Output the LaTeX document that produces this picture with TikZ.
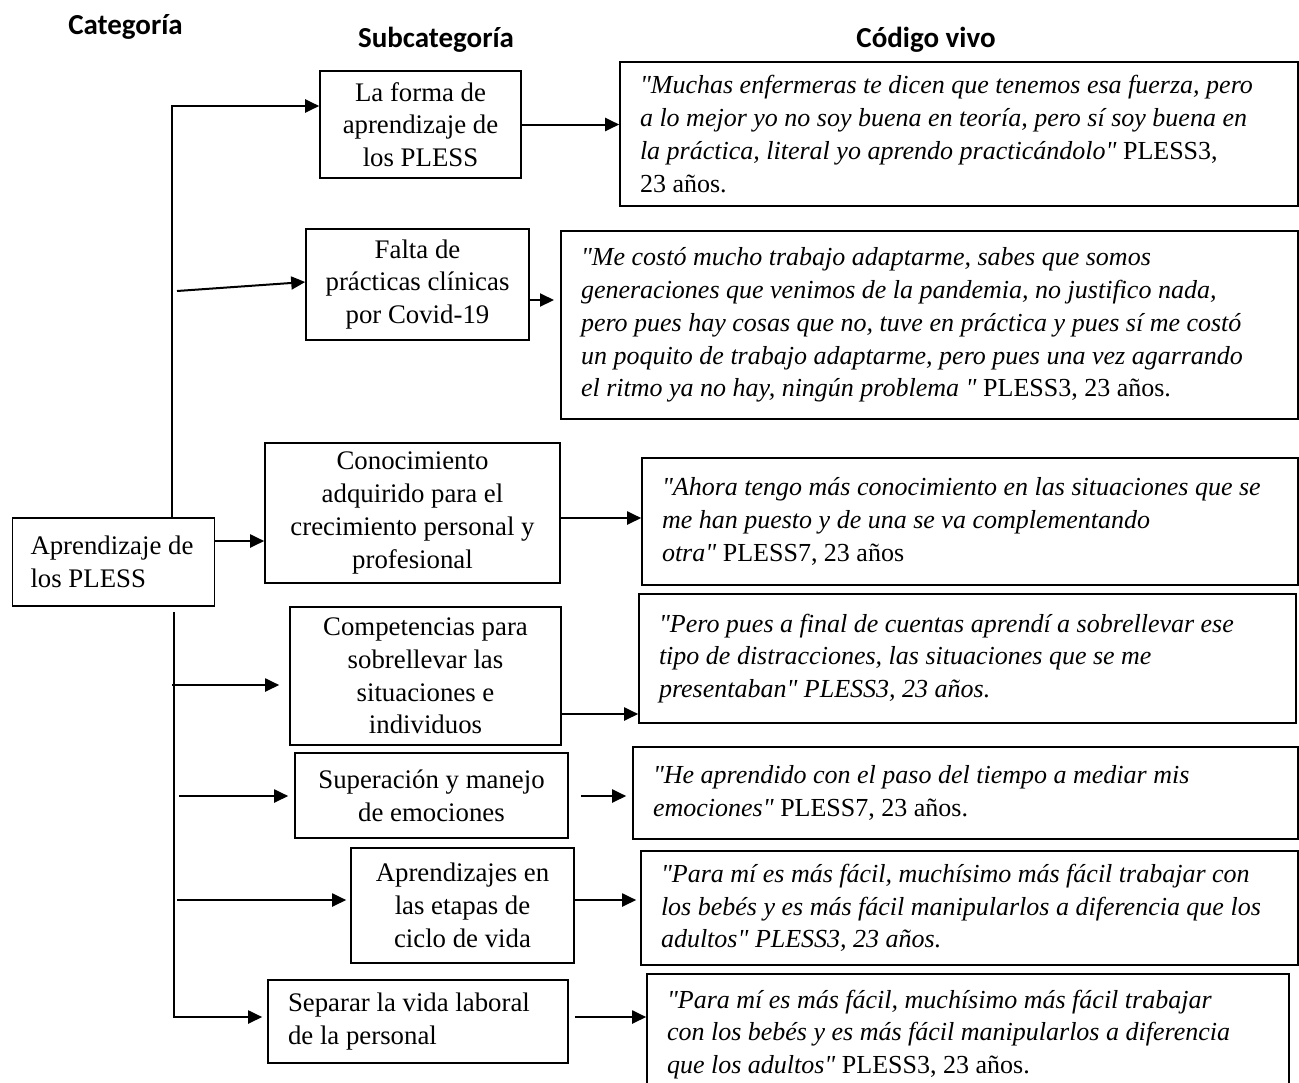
\documentclass[tikz,border=0pt]{standalone}
\usepackage{fontspec}
\newfontfamily\bodyfont{Liberation Serif}
\newfontfamily\hdrfont{Carlito}
\usetikzlibrary{arrows.meta}
\begin{document}
\begin{tikzpicture}[x=0.5pt,y=-0.5pt,
  box/.style={draw=black, line width=0.8pt, inner ysep=0pt},
  subbox/.style={box, align=center, inner xsep=2pt, font=\bodyfont\fontsize{13.4}{16.4}\selectfont},
  lbox/.style={box, align=flush left, inner xsep=10pt, font=\bodyfont\fontsize{13}{16.4}\selectfont},
  hdr/.style={font=\hdrfont\bfseries\fontsize{14.5}{16}\selectfont, inner sep=0pt},
  arr/.style={line width=1pt, -{Triangle[length=7pt,width=6.5pt]}}]
\useasboundingbox (0,0) rectangle (1299,1082);
\clip (0,0) rectangle (1299,1082);

% headers
\node[hdr] (hc) at (125.5,27) {Categoría};
\node[hdr] (hs) at (436,40) {Subcategoría};
\node[hdr] (hv) at (926,40) {Código vivo};

% category
\node[lbox, font=\bodyfont\fontsize{13.4}{16.4}\selectfont, inner xsep=9pt, minimum width=101pt, minimum height=44pt, text width=83pt] (A) at (113.5,562) {Aprendizaje de\\los PLESS};

% subcategories
\node[subbox, minimum width=100.5pt, minimum height=53.5pt] (s1) at (420.5,124.5) {La forma de\\aprendizaje de\\los PLESS};
\node[subbox, minimum width=111.5pt, minimum height=55.5pt] (s2) at (417.5,284.5) {Falta de\\prácticas clínicas\\por Covid-19};
\node[subbox, minimum width=147.5pt, minimum height=70pt] (s3) at (412.5,513) {Conocimiento\\adquirido para el\\crecimiento personal y\\profesional};
\node[subbox, minimum width=135.5pt, minimum height=69pt] (s4) at (425.5,676) {Competencias para\\sobrellevar las\\situaciones e\\individuos};
\node[subbox, minimum width=136.5pt, minimum height=42.5pt] (s5) at (431.5,795.5) {Superación y manejo\\de emociones};
\node[subbox, minimum width=111.5pt, minimum height=57.5pt] (s6) at (462.5,905.5) {Aprendizajes en\\las etapas de\\ciclo de vida};
\node[lbox, font=\bodyfont\fontsize{13.4}{16.4}\selectfont, minimum width=150pt, minimum height=41.5pt, text width=130pt] (s7) at (418,1021.5) {Separar la vida laboral\\de la personal};

% quotes
\node[lbox, minimum width=339pt, minimum height=72pt, text width=319pt] (q1) at (959,134) {\textit{"Muchas enfermeras te dicen que tenemos esa fuerza, pero}\\\textit{a lo mejor yo no soy buena en teoría, pero sí soy buena en}\\\textit{la práctica, literal yo aprendo practicándolo"} PLESS3,\\23 años.};
\node[lbox, minimum width=368.5pt, minimum height=94pt, text width=348.5pt] (q2) at (929.5,325) {\textit{"Me costó mucho trabajo adaptarme, sabes que somos}\\\textit{generaciones que venimos de la pandemia, no justifico nada,}\\\textit{pero pues hay cosas que no, tuve en práctica y pues sí me costó}\\\textit{un poquito de trabajo adaptarme, pero pues una vez agarrando}\\\textit{el ritmo ya no hay, ningún problema "} PLESS3, 23 años.};
\node[lbox, minimum width=328pt, minimum height=63.5pt, text width=308pt] (q3) at (970,521.5) {\textit{"Ahora tengo más conocimiento en las situaciones que se}\\\textit{me han puesto y de una se va complementando}\\\textit{otra"} PLESS7, 23 años};
\node[lbox, minimum width=328.5pt, minimum height=64.5pt, text width=308.5pt] (q4) at (967.5,658.5) {\textit{"Pero pues a final de cuentas aprendí a sobrellevar ese}\\\textit{tipo de distracciones, las situaciones que se me}\\\textit{presentaban" PLESS3, 23 años.}};
\node[lbox, minimum width=332.5pt, minimum height=46pt, text width=312.5pt] (q5) at (965.5,793) {\textit{"He aprendido con el paso del tiempo a mediar mis}\\\textit{emociones"} PLESS7, 23 años.};
\node[lbox, minimum width=328.5pt, minimum height=57pt, text width=308.5pt] (q6) at (969.5,908) {\textit{"Para mí es más fácil, muchísimo más fácil trabajar con}\\\textit{los bebés y es más fácil manipularlos a diferencia que los}\\\textit{adultos" PLESS3, 23 años.}};
\node[lbox, minimum width=321pt, minimum height=60.5pt, text width=301pt] (q7) at (968,1034.5) {\textit{"Para mí es más fácil, muchísimo más fácil trabajar}\\\textit{con los bebés y es más fácil manipularlos a diferencia}\\\textit{que los adultos"} PLESS3, 23 años.};

% connector coordinates
\coordinate (t1) at (172,106);
\coordinate (b2) at (177,291);
\coordinate (e2) at (554,300);
\coordinate (r3) at (0,541);
\coordinate (r3b) at (0,518);
\coordinate (tb) at (174,612);
\coordinate (t7) at (174,1017);
\coordinate (b4) at (172,685);
\coordinate (r4) at (0,714);
\coordinate (b5) at (179,796);
\coordinate (b6) at (177,900);

% connectors
\draw[arr] (A.north -| t1) -- (t1) -- (s1.west |- t1);
\draw[arr] (s1.east) -- (q1.west |- s1.east);
\draw[arr] (b2) -- ([yshift=1.25pt]s2.west);
\draw[arr] (s2.east |- e2) -- (e2);
\draw[arr] (A.east |- r3) -- (s3.west |- r3);
\draw[arr] (s3.east |- r3b) -- (q3.west |- r3b);
\draw[arr, shorten >=2.5pt] (tb) -- (t7) -- (s7.west |- t7);
\draw[arr, shorten >=5pt] (b4) -- (s4.west |- b4);
\draw[arr] (s4.east |- r4) -- (q4.west |- r4);
\draw[arr, shorten >=3pt] (b5) -- (s5.west |- b5);
\draw[arr, shorten <=6pt, shorten >=3pt] (s5.east |- b5) -- (q5.west |- b5);
\draw[arr, shorten >=2pt] (b6) -- (s6.west |- b6);
\draw[arr, shorten >=2pt] (s6.east |- b6) -- (q6.west |- b6);
\draw[arr, shorten <=3pt] (s7.east |- t7) -- (q7.west |- t7);
\end{tikzpicture}
\end{document}
